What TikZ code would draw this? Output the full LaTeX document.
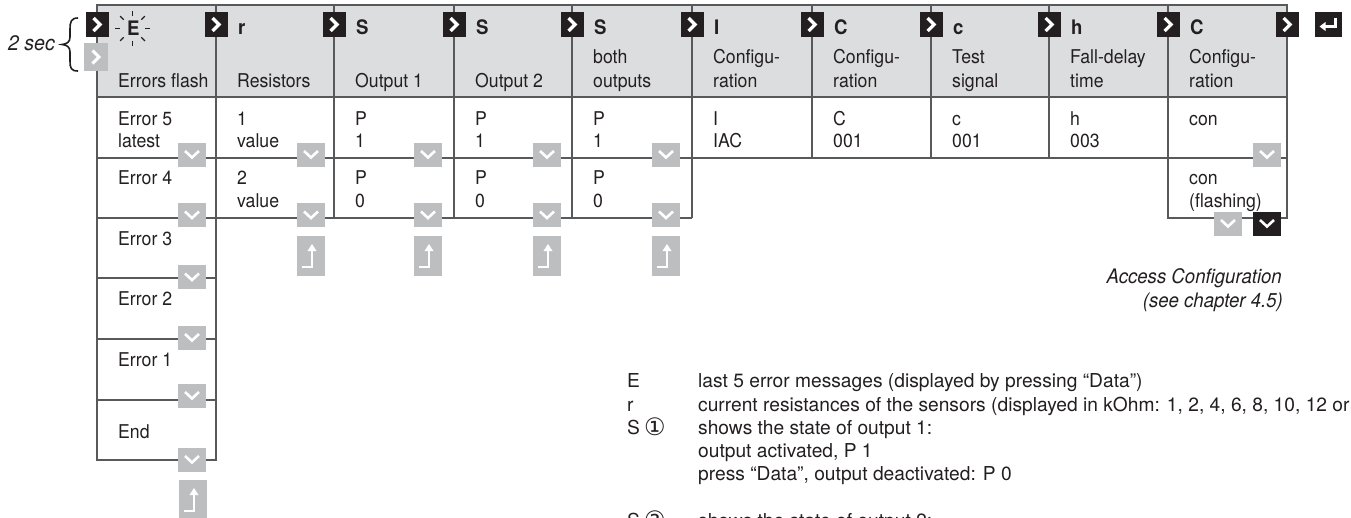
\documentclass[tikz,border=0pt]{standalone}
\usepackage{fontspec}
\usetikzlibrary{calc}
\setmainfont{TeX Gyre Heros}[FakeStretch=0.93]
\newfontfamily\legfont{TeX Gyre Heros}[FakeStretch=1.0]
\newfontfamily\symfont{DejaVu Sans}
\definecolor{hdr}{HTML}{DCDDDE}
\definecolor{chv}{HTML}{BCBEC0}
\definecolor{ink}{HTML}{231F20}
\definecolor{rule}{HTML}{58595B}
\tikzset{
  grid/.style={draw=rule, line width=1.4pt},
  txt/.style={anchor=base west, inner sep=0pt, text=ink, font=\fontsize{19}{22}\selectfont},
  leg/.style={anchor=base west, inner sep=0pt, text=ink, font=\legfont\fontsize{19.2}{22}\selectfont},
  keyl/.style={anchor=base west, inner sep=0pt, text=ink, font=\fontsize{20}{22}\selectfont\bfseries},
  itx/.style={inner sep=0pt, text=ink, font=\fontsize{20}{24}\selectfont\itshape},
  blkright/.pic={\fill[ink] (-11.5,-12.5) rectangle (11.5,12.5);
    \draw[white,line width=3.2pt] (-3.5,-6.5) -- (3,0) -- (-3.5,6.5);},
  gryright/.pic={\fill[chv] (-12,-14) rectangle (12,14);
    \draw[white,line width=3pt] (-3.5,-6.5) -- (3,0) -- (-3.5,6.5);},
  grydown/.pic={\fill[chv] (-14,-12) rectangle (14,12);
    \draw[white,line width=2.6pt] (-7,-3.5) -- (0,3) -- (7,-3.5);},
  blkdown/.pic={\fill[ink] (-14,-12) rectangle (14,12);
    \draw[white,line width=2.6pt] (-7,-3.5) -- (0,3) -- (7,-3.5);},
  upret/.pic={\fill[chv] (-14,-20) rectangle (14,20);
    \draw[white,line width=2.4pt] (-9,11) -- (1,11) -- (1,-6);
    \fill[white] (1,-12) -- (-3.5,-5) -- (5.5,-5) -- cycle;},
  retkey/.pic={\fill[ink] (-13.5,-12.5) rectangle (13.5,12.5);
    \draw[white,line width=2.4pt] (7,-7) -- (7,2) -- (-4,2);
    \fill[white] (-9,2) -- (-3,-2.5) -- (-3,6.5) -- cycle;}
}
\begin{document}
\begin{tikzpicture}[x=1pt,y=-1pt]
\useasboundingbox (0,0) rectangle (1351,517);
% header band
\fill[hdr] (97,5) rectangle (1287,97);
% table rules
\draw[grid] (97,5) rectangle (1287,158);
\draw[grid] (97,97) -- (1287,97);
\foreach \x in {216,334,454,572,692,812,931,1049,1168} \draw[grid] (\x,5) -- (\x,158);
\draw[grid] (97,158) -- (97,460) -- (216,460) -- (216,158);
\foreach \x in {334,454,572,692} \draw[grid] (\x,158) -- (\x,218);
\draw[grid] (97,218) -- (692,218);
\foreach \y in {278,339,400} \draw[grid] (97,\y) -- (216,\y);
\draw[grid] (1168,158) -- (1168,218) -- (1287,218) -- (1287,158);
% header keys
\foreach \x in {97,216,334,454,572,692,812,931,1049,1168,1287} \pic at (\x,24.5) {blkright};
\pic at (96,57) {gryright};
\pic at (1328.5,24.5) {retkey};
% flashing E
\node[keyl] (kE) at (127,35) {E};
\foreach \a in {0,45,...,315} {
  \draw[ink,line width=1.1pt] ($(132.5,28.5)+(\a:12.5)$) -- ($(132.5,28.5)+(\a:17.5)$);
}
\foreach \x/\k [count=\i] in {216/r,334/S,454/S,572/S,692/I,812/C,931/c,1049/h,1168/C}
  \node[keyl] (k\i) at (\x+22,34) {\k};
\foreach \x/\a/\b [count=\i] in {97/{}/{Errors flash},216/{}/Resistors,334/{}/{Output 1},454/{}/{Output 2},572/both/outputs,692/{Configu-}/ration,812/{Configu-}/ration,931/Test/signal,1049/{Fall-delay}/time,1168/{Configu-}/ration} {
  \node[txt] (ha\i) at (\x+21,63) {\a};
  \node[txt] (hb\i) at (\x+21,87) {\b};
}
% row 1
\foreach \x/\a/\b [count=\i] in {97/{Error 5}/latest,216/1/value,334/P/1,454/P/1,572/P/1,692/I/IAC,812/C/001,931/c/001,1049/h/003,1168/con/{}} {
  \node[txt] (ra\i) at (\x+21,125) {\a};
  \node[txt] (rb\i) at (\x+21,147) {\b};
}
% row 2
\foreach \x/\a/\b [count=\i] in {97/{Error 4}/{},216/2/value,334/P/0,454/P/0,572/P/0,1168/con/(flashing)} {
  \node[txt] (sa\i) at (\x+21,184) {\a};
  \node[txt] (sb\i) at (\x+21,207) {\b};
}
% error column
\node[txt] (e3) at (118,245) {Error 3};
\node[txt] (e2) at (118,305) {Error 2};
\node[txt] (e1) at (118,366) {Error 1};
\node[txt] (e0) at (118,438) {End};
% down chevrons
\foreach \x in {192,311,428,547,666} {
  \pic at (\x,154.5) {grydown};
  \pic at (\x,215) {grydown};
}
\pic at (1267,154.5) {grydown};
\pic at (1228,223.5) {grydown};
\pic at (1267,223.5) {blkdown};
\foreach \y in {277,337.5,395.5,459.5} \pic at (192,\y) {grydown};
% return arrows
\foreach \x in {311,428,547,666} \pic at (\x,256) {upret};
\pic at (193,500) {upret};
% 2 sec brace
\node[itx, anchor=base east, font=\fontsize{21}{24}\selectfont\itshape] (sec) at (55,50) {2 sec};
\draw[ink,line width=1.6pt] (78,18) .. controls (71,18) and (70,22) .. (70,29) -- (70,37)
  .. controls (70,42) and (67,44) .. (62,44.5) .. controls (67,45) and (70,47) .. (70,52) -- (70,61)
  .. controls (70,68) and (71,71) .. (78,71);
% access configuration
\node[itx, anchor=base east] (acc1) at (1282,283) {Access Configuration};
\node[itx, anchor=base east] (acc2) at (1283,307) {(see chapter 4.5)};
% legend
\node[leg] (lk1) at (627,387) {E};
\node[leg] (ld1) at (698,387) {last 5 error messages (displayed by pressing “Data”)};
\node[leg] (lk2) at (627,411) {r};
\node[leg] (ld2) at (698,411) {current resistances of the sensors (displayed in kOhm: 1, 2, 4, 6, 8, 10, 12 or};
\node[leg] (lk3) at (627,434) {S\hspace{4pt}\raisebox{-1.5pt}{\symfont\fontsize{24}{24}\selectfont ①}};
\node[leg] (ld3) at (698,434) {shows the state of output 1:};
\node[leg] (ld4) at (698,457) {output activated, P 1};
\node[leg] (ld5) at (698,480) {press “Data”, output deactivated: P 0};
\node[leg] (lk6) at (627,527) {S\hspace{4pt}\raisebox{-1.5pt}{\symfont\fontsize{24}{24}\selectfont ②}};
\node[leg] (ld6) at (698,527) {shows the state of output 2:};
\end{tikzpicture}
\end{document}
